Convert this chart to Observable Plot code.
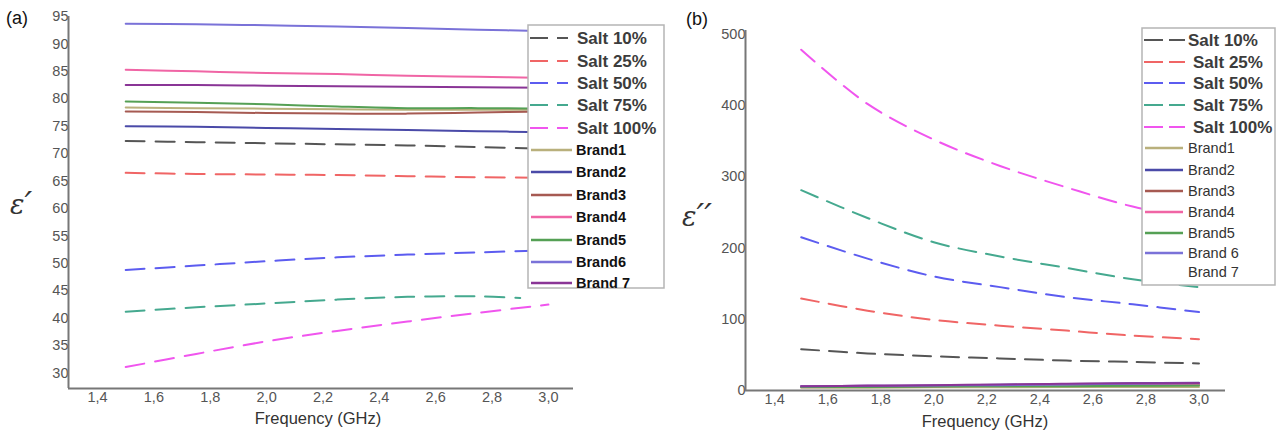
<!DOCTYPE html>
<html><head><meta charset="utf-8">
<script src="https://cdn.jsdelivr.net/npm/d3@7"></script>
<script src="https://cdn.jsdelivr.net/npm/@observablehq/plot@0.6"></script>
<style>
body{margin:0;background:#fff;font-family:"Liberation Sans",Arial,sans-serif}
#wrap{position:relative;width:1281px;height:432px;overflow:hidden;background:#fff}
#wrap>svg{position:absolute;top:0}
</style></head><body><div id="wrap"></div>
<script>
// ---------- data ----------
const freq = [1.5, 1.75, 2.0, 2.25, 2.5, 2.75, 3.0];
const freqA75 = [1.5, 1.75, 2.0, 2.25, 2.5, 2.75, 2.9];
const xTicks = [1.4, 1.6, 1.8, 2.0, 2.2, 2.4, 2.6, 2.8, 3.0];
const yTicksA = [30, 35, 40, 45, 50, 55, 60, 65, 70, 75, 80, 85, 90, 95];
const yTicksB = [0, 100, 200, 300, 400, 500];

const saltNames = ["Salt 10%", "Salt 25%", "Salt 50%", "Salt 75%", "Salt 100%"];
const brandNamesA = ["Brand1", "Brand2", "Brand3", "Brand4", "Brand5", "Brand6", "Brand 7"];
const brandNamesB = ["Brand1", "Brand2", "Brand3", "Brand4", "Brand5", "Brand 6", "Brand 7"];
const saltColors = ["#555555", "#f06565", "#5c5cf0", "#45a98f", "#f055ee"];
const brandColors = ["#b9b07c", "#4a4aa8", "#a65a52", "#f065a5", "#55a055", "#7a72d8", "#8a3596"];

// panel (a): epsilon'
const a_salt10  = [72.3, 72.1, 71.9, 71.7, 71.5, 71.2, 70.9];
const a_salt25  = [66.5, 66.3, 66.2, 66.1, 65.9, 65.7, 65.6];
const a_salt50  = [48.8, 49.6, 50.4, 51.1, 51.6, 52.0, 52.4];
const a_salt75  = [41.2, 42.0, 42.7, 43.4, 43.9, 44.0, 43.7];
const a_salt100 = [31.1, 33.5, 35.8, 37.7, 39.4, 41.0, 42.5];
const a_brand1  = [78.4, 78.3, 78.2, 78.1, 78.0, 78.0, 78.0];
const a_brand2  = [75.0, 74.9, 74.7, 74.5, 74.3, 74.1, 73.9];
const a_brand3  = [77.7, 77.6, 77.4, 77.3, 77.3, 77.5, 77.7];
const a_brand4  = [85.3, 85.0, 84.7, 84.5, 84.2, 84.0, 83.8];
const a_brand5  = [79.5, 79.3, 79.0, 78.6, 78.3, 78.3, 78.2];
const a_brand6  = [93.7, 93.6, 93.4, 93.2, 92.9, 92.6, 92.3];
const a_brand7  = [82.5, 82.5, 82.4, 82.3, 82.2, 82.1, 82.0];

// panel (b): epsilon''
const b_salt10  = [58, 52, 48, 45, 42, 40, 38];
const b_salt25  = [129, 112, 99, 91, 84, 77, 72];
const b_salt50  = [215, 185, 160, 145, 131, 121, 110];
const b_salt75  = [281, 242, 208, 188, 172, 156, 145];
const b_salt100 = [478, 402, 352, 315, 285, 258, 240];
const b_brand1  = [4, 4, 4.5, 4.5, 5, 5, 5];
const b_brand2  = [6, 6.5, 7, 8, 9, 10, 11];
const b_brand3  = [5, 5.5, 6, 6.5, 7, 7.5, 8];
const b_brand4  = [6, 6.5, 7, 7.5, 8, 8.5, 9];
const b_brand5  = [5, 5, 5.5, 6, 6, 6.5, 7];
const b_brand6  = [6, 6.5, 7, 7.5, 8.5, 9.5, 10.5];
const b_brand7  = [6, 6.5, 7.5, 8.5, 9.5, 10, 10.5];

// ---------- build ----------
const fmt = d => d.toFixed(1).replace(".", ",");
const rows = (xs, ys) => xs.map((f, i) => ({f, v: ys[i]}));

const aSalts = [a_salt10, a_salt25, a_salt50, a_salt75, a_salt100];
const aBrands = [a_brand1, a_brand2, a_brand3, a_brand4, a_brand5, a_brand6, a_brand7];
const bSalts = [b_salt10, b_salt25, b_salt50, b_salt75, b_salt100];
const bBrands = [b_brand1, b_brand2, b_brand3, b_brand4, b_brand5, b_brand6, b_brand7];

const wrap = document.getElementById("wrap");
const font = '"Liberation Sans", Arial, sans-serif';

function panel(opts) {
  const {salts, brands, saltX, xDomain, yDomain, yTicks, dash, width, mL, mR, mT, mB} = opts;
  const marks = [
    Plot.axisX({ticks: xTicks, tickFormat: fmt, tickSize: 0, tickPadding: 3, label: null, fontSize: 14.5, fill: "#555"}),
    Plot.axisY({ticks: yTicks, tickSize: 0, tickPadding: 0, label: null, fontSize: 14.5, fill: "#555"})
  ];
  brands.forEach((ys, i) => marks.push(Plot.line(rows(freq, ys), {x: "f", y: "v", stroke: brandColors[i], strokeWidth: 2, curve: "catmull-rom"})));
  salts.forEach((ys, i) => marks.push(Plot.line(rows(saltX[i], ys), {x: "f", y: "v", stroke: saltColors[i], strokeWidth: 2, strokeDasharray: dash, curve: "catmull-rom"})));
  marks.push(Plot.ruleX([xDomain[0]], {stroke: "#777", strokeWidth: 2}));
  marks.push(Plot.ruleY([yDomain[0]], {stroke: "#777", strokeWidth: 2}));
  return Plot.plot({
    width, height: 432, marginLeft: mL, marginRight: mR, marginTop: mT, marginBottom: mB,
    x: {domain: xDomain}, y: {domain: yDomain},
    style: {fontFamily: font, background: "transparent", overflow: "visible"},
    marks
  });
}

const pA = panel({salts: aSalts, brands: aBrands,
  saltX: [freq, freq, freq, freqA75, freq],
  xDomain: [1.297, 3.089], yDomain: [27.2, 95], yTicks: yTicksA, dash: "19,11",
  width: 640, mL: 68, mR: 67, mT: 16, mB: 44});
pA.style.left = "0px";
wrap.appendChild(pA);

const pB = panel({salts: bSalts, brands: bBrands,
  saltX: [freq, freq, freq, freq, freq],
  xDomain: [1.29, 3.10], yDomain: [0, 505], yTicks: yTicksB, dash: "18,10",
  width: 641, mL: 105, mR: 56, mT: 30, mB: 42});
pB.style.left = "640px";
wrap.appendChild(pB);

// ---------- overlay: legends, titles ----------
const svg = d3.select(wrap).append("svg").attr("width", 1281).attr("height", 432)
  .style("left", "0px").style("font-family", font);

// panel labels
svg.append("text").attr("x", 6).attr("y", 24).attr("font-size", 18).attr("fill", "#111").text("(a)");
svg.append("text").attr("x", 686).attr("y", 25).attr("font-size", 18).attr("fill", "#111").text("(b)");
// y titles
function epsTitle(x, y, primes) {
  const t = svg.append("text").attr("x", x).attr("y", y).attr("font-size", 27).attr("font-style", "italic")
    .attr("font-family", '"DejaVu Serif", serif').attr("fill", "#333");
  t.append("tspan").text("ε");
  t.append("tspan").attr("font-family", '"DejaVu Sans", sans-serif').attr("font-size", 34).attr("dx", 0).attr("dy", 2).text(primes);
}
epsTitle(10, 214, "′");
epsTitle(682, 226, "′′");
// x titles
svg.append("text").attr("x", 318).attr("y", 424).attr("text-anchor", "middle").attr("font-size", 16.5).attr("fill", "#333").text("Frequency (GHz)");
svg.append("text").attr("x", 985).attr("y", 427).attr("text-anchor", "middle").attr("font-size", 16.5).attr("fill", "#333").text("Frequency (GHz)");

function legend(cfg) {
  const g = svg.append("g");
  g.append("rect").attr("x", cfg.box[0]).attr("y", cfg.box[1]).attr("width", cfg.box[2] - cfg.box[0])
    .attr("height", cfg.box[3] - cfg.box[1]).attr("fill", "#fff").attr("stroke", "#b5b5b5").attr("stroke-width", 1.5);
  saltNames.forEach((n, i) => {
    const y = cfg.saltY[i];
    g.append("line").attr("x1", cfg.sLine[0]).attr("x2", cfg.sLine[1]).attr("y1", y).attr("y2", y)
      .attr("stroke", saltColors[i]).attr("stroke-width", 2).attr("stroke-dasharray", cfg.sDash);
    g.append("text").attr("x", cfg.saltTx[i]).attr("y", y).attr("dy", "0.36em").attr("font-size", 17)
      .attr("font-weight", "bold").attr("fill", "#3c3c3c").text(n);
  });
  cfg.brandNames.forEach((n, i) => {
    const y = cfg.brandY[i];
    if (cfg.brandLine[i]) g.append("line").attr("x1", cfg.bLine[0]).attr("x2", cfg.bLine[1]).attr("y1", y).attr("y2", y)
      .attr("stroke", brandColors[i]).attr("stroke-width", 2.5);
    g.append("text").attr("x", cfg.brandTx).attr("y", y).attr("dy", "0.36em").attr("font-size", cfg.bSize)
      .attr("font-weight", cfg.bWeight).attr("fill", cfg.bFill).text(n);
  });
}

legend({box: [528, 25, 664, 288], saltY: [38, 61, 83, 105, 128], saltTx: [577, 577, 577, 577, 577],
  sLine: [530, 568], sDash: "18,9",
  brandNames: brandNamesA, brandY: [150, 172, 195, 217, 240, 262, 283], brandLine: [1, 1, 1, 1, 1, 1, 1],
  bLine: [531, 572], brandTx: 576, bSize: 14.5, bWeight: "bold", bFill: "#111"});

legend({box: [1142, 28, 1275, 285], saltY: [40, 62, 83, 105, 127], saltTx: [1188, 1193, 1193, 1193, 1193],
  sLine: [1144, 1185], sDash: "19,6",
  brandNames: brandNamesB, brandY: [148, 170, 191, 212, 233, 253, 272], brandLine: [1, 1, 1, 1, 1, 1, 0],
  bLine: [1145, 1183], brandTx: 1188, bSize: 14.5, bWeight: "normal", bFill: "#333"});
</script>
</body></html>
